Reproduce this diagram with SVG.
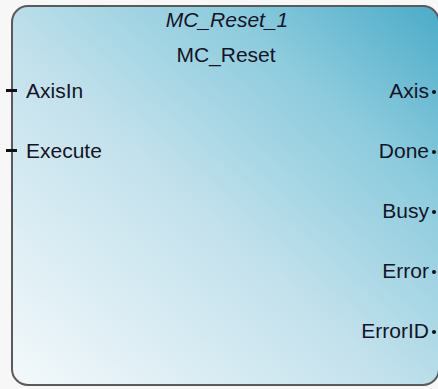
<svg xmlns="http://www.w3.org/2000/svg" width="438" height="389" viewBox="0 0 438 389">
<defs>
<linearGradient id="bg" x1="0" y1="1" x2="1" y2="0">
<stop offset="0" stop-color="#f4f9fb"/>
<stop offset="0.45" stop-color="#c2e1ec"/>
<stop offset="0.75" stop-color="#8ccbdd"/>
<stop offset="1" stop-color="#4babc8"/>
</linearGradient>
<style>
text{font-family:"Liberation Sans",Arial,sans-serif;font-size:21px;fill:#141428}
.r{text-anchor:end}
.c{text-anchor:middle}
.pin{fill:#111}
</style>
</defs>
<rect width="438" height="389" fill="#f7f7f7"/>
<g id="block">
<rect x="12" y="6" width="427" height="379" rx="16" ry="16" fill="url(#bg)" stroke="#5a5a5a" stroke-width="2"/>
<text class="c" x="227" y="27" font-style="italic">MC_Reset_1</text>
<text class="c" x="226" y="62">MC_Reset</text>
</g>
<g id="connectors">
<rect class="pin" x="6" y="89" width="11" height="3"/>
<rect class="pin" x="6" y="149" width="11" height="3"/>
<circle class="pin" cx="434" cy="92" r="2"/>
<circle class="pin" cx="434" cy="152" r="2"/>
<circle class="pin" cx="434" cy="212" r="2"/>
<circle class="pin" cx="434" cy="272" r="2"/>
<circle class="pin" cx="434" cy="332" r="2"/>
</g>
<g id="pin-AxisIn"><text x="26" y="98">AxisIn</text></g>
<g id="pin-Execute"><text x="26" y="158">Execute</text></g>
<g id="pin-Axis"><text class="r" x="429" y="98">Axis</text></g>
<g id="pin-Done"><text class="r" x="429" y="158">Done</text></g>
<g id="pin-Busy"><text class="r" x="429" y="218">Busy</text></g>
<g id="pin-Error"><text class="r" x="429" y="278">Error</text></g>
<g id="pin-ErrorID"><text class="r" x="429" y="338">ErrorID</text></g>
</svg>
